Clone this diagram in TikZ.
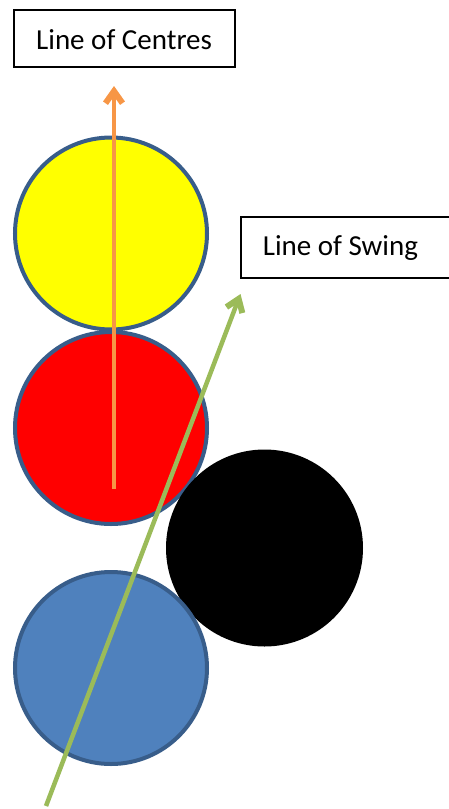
\documentclass[tikz,border=0pt]{standalone}
\usepackage{fontspec}
\setmainfont{Carlito}
\usetikzlibrary{arrows.meta}
\definecolor{ballyellow}{HTML}{FFFF00}
\definecolor{ballred}{HTML}{FF0000}
\definecolor{ballblue}{HTML}{4F81BD}
\definecolor{ballrim}{HTML}{385D8A}
\definecolor{arroworange}{HTML}{F79646}
\definecolor{arrowgreen}{HTML}{9BBB59}
\tikzset{
  ball/.style={circle, draw=ballrim, line width=4pt, minimum size=192pt, inner sep=0pt},
  plainball/.style={circle, minimum size=197pt, inner sep=0pt},
  labelbox/.style={draw=black, line width=1.8pt, fill=white, inner sep=0pt},
  boxedge/.style={draw=black, line width=1.8pt},
  labeltext/.style={inner sep=0pt, font=\fontsize{29}{34}\selectfont},
  bigarrow/.style={line width=4.5pt, -{Straight Barb[length=12pt, width=17pt, line width=6pt]}},
}
\begin{document}
\begin{tikzpicture}[x=1pt, y=-1pt]
\useasboundingbox (0,0) rectangle (449,809);
% balls
\node[ball, fill=ballyellow] (yellow) at (111,233.5) {};
\node[ball, fill=ballred] (red) at (111,428) {};
\node[plainball, fill=black] (black) at (264.5,548) {};
\node[ball, fill=ballblue] (blue) at (111,668) {};
% arrows
\coordinate (oStart) at (114,489);
\coordinate (oEnd) at (114,86);
\coordinate (gStart) at (46,806);
\coordinate (gEnd) at (240.5,294);
\draw[bigarrow, arroworange] (oStart) -- (oEnd);
\draw[bigarrow, arrowgreen] (gStart) -- (gEnd);
% labels
\node[labelbox, minimum width=221pt, minimum height=57pt] (centresbox) at (124.5,38.5) {};
\node[labeltext, anchor=base west] (centres) at (36,49.3) {Line of Centres};
\node[fill=white, inner sep=0pt, anchor=west, minimum width=215pt, minimum height=61pt] (swingbox) at (240.7,247.5) {};
\draw[boxedge] (swingbox.north east) -- (swingbox.north west) -- (swingbox.south west) -- (swingbox.south east);
\node[labeltext, anchor=base west] (swing) at (262.7,255) {Line of Swing};
\end{tikzpicture}
\end{document}
